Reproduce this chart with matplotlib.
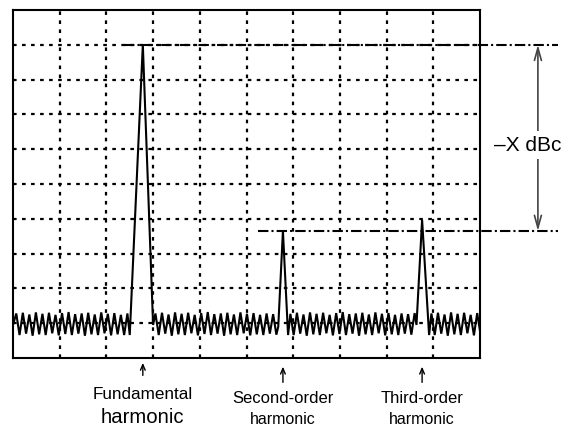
import numpy as np
import matplotlib
matplotlib.use("Agg")
import matplotlib.pyplot as plt

plt.rcParams['font.family'] = ['Liberation Sans', 'DejaVu Sans']
plt.rcParams['lines.scale_dashes'] = False

# ---- data (screen divisions, 10 x 10 graticule) ----
noise_step = 0.07
noise_starts = [0.0, 3.05, 5.94, 8.96]
noise_seg1 = [0.95, 1.28, 0.66, 1.30, 0.70, 1.25, 0.64, 1.31, 0.68, 1.27,
              0.66, 1.30, 0.71, 1.24, 0.65, 1.29, 0.69, 1.32, 0.66, 1.26,
              0.70, 1.28, 0.64, 1.30, 0.68, 1.25, 0.66, 1.31, 0.71, 1.27,
              0.65, 1.29, 0.68, 1.24, 0.66, 1.28]
noise_seg2 = [1.28, 0.66, 1.30, 0.70, 1.25, 0.64, 1.31, 0.68, 1.27, 0.66,
              1.30, 0.71, 1.24, 0.65, 1.29, 0.69, 1.32, 0.66, 1.26, 0.70,
              1.28, 0.64, 1.30, 0.68, 1.25, 0.66, 1.31, 0.71, 1.27, 0.65,
              1.29, 0.68, 1.24, 0.66, 1.28, 0.70, 1.26, 0.67]
noise_seg3 = [1.27, 0.66, 1.30, 0.70, 1.25, 0.64, 1.31, 0.68, 1.27, 0.66,
              1.30, 0.71, 1.24, 0.65, 1.29, 0.69, 1.32, 0.66, 1.26, 0.70,
              1.28, 0.64, 1.30, 0.68, 1.25, 0.66, 1.31, 0.71, 1.27, 0.65,
              1.29, 0.68, 1.24, 0.66, 1.28, 0.70, 1.26, 0.67, 1.29]
noise_seg4 = [1.28, 0.66, 1.30, 0.70, 1.25, 0.64, 1.31, 0.68, 1.27, 0.66,
              1.30, 0.71, 1.24, 0.65, 1.29, 0.69]
noise_segments = [noise_seg1, noise_seg2, noise_seg3, noise_seg4]

peak_freqs = [2.78, 5.78, 8.76]
peak_levels = [9.0, 3.65, 3.97]
peak_base_left = [2.50, 5.68, 8.64]
peak_base_right = [3.00, 5.89, 8.91]
peak_base_level_left = [0.66, 0.90, 0.95]
peak_base_level_right = [0.95, 0.66, 0.66]

ref_levels = [9.0, 3.65]          # fundamental and second-order levels
ref_line_start = [2.38, 5.25]
ref_line_end = 11.68
marker_label = "\u2013X dBc"

harmonic_names = ["Fundamental", "Second-order", "Third-order"]
harmonic_sub = ["harmonic", "harmonic", "harmonic"]

# ---- build trace ----
trace_x, trace_y = [], []
for i, seg in enumerate(noise_segments):
    xs = [noise_starts[i] + noise_step * k for k in range(len(seg))]
    trace_x += xs
    trace_y += seg
    if i < len(peak_freqs):
        trace_x += [peak_base_left[i], peak_freqs[i], peak_base_right[i]]
        trace_y += [peak_base_level_left[i], peak_levels[i], peak_base_level_right[i]]

fig = plt.figure(figsize=(5.7, 4.28), dpi=100)
ax = fig.add_axes([13/570, 70/428, 467/570, 348/428])
ax.set_xlim(0, 10)
ax.set_ylim(0, 10)
ax.set_xticks([])
ax.set_yticks([])
for s in ax.spines.values():
    s.set_linewidth(1.5)
    s.set_color('black')

grid_ls = (0, (2.6, 3.9))
for g in range(1, 10):
    ax.axvline(g, color='black', lw=1.6, ls=grid_ls, zorder=1)
    ax.axhline(g, color='black', lw=1.6, ls=grid_ls, zorder=1)

ax.plot(trace_x, trace_y, color='black', lw=1.5, zorder=3, solid_joinstyle='miter')

dashdot = (0, (7.5, 2.2, 1.5, 2.2))
for lvl, x0 in zip(ref_levels, ref_line_start):
    ax.plot([x0, ref_line_end], [lvl, lvl], color='black', lw=1.5, ls=dashdot,
            clip_on=False, zorder=2)

# level-difference arrow
arrow_x = 11.24
ax.annotate('', xy=(arrow_x, ref_levels[0]), xytext=(arrow_x, ref_levels[1]),
            xycoords='data', textcoords='data',
            arrowprops=dict(arrowstyle='<->,head_length=0.9,head_width=0.25',
                            color='#444444', lw=1.2, shrinkA=0, shrinkB=0),
            annotation_clip=False)
ax.text(11.02, 6.12, marker_label, ha='center', va='center', fontsize=15,
        bbox=dict(facecolor='white', edgecolor='none', pad=3), clip_on=False)

# labels below
arrow_tops = [-0.14, -0.25, -0.25]
arrow_bots = [-0.50, -0.70, -0.70]
name_y = [-1.06, -1.16, -1.16]
sub_y = [-1.72, -1.78, -1.78]
name_fs = [12.3, 12, 12]
sub_fs = [14.6, 11.5, 11.5]
for i, f in enumerate(peak_freqs):
    ax.annotate('', xy=(f, arrow_tops[i]), xytext=(f, arrow_bots[i]),
                arrowprops=dict(arrowstyle='->,head_length=0.4,head_width=0.17',
                                color='black', lw=1.0, shrinkA=0, shrinkB=0),
                annotation_clip=False)
    ax.text(f, name_y[i], harmonic_names[i], ha='center', va='center',
            fontsize=name_fs[i], clip_on=False)
    ax.text(f, sub_y[i], harmonic_sub[i], ha='center', va='center',
            fontsize=sub_fs[i], clip_on=False)

fig.savefig('out.png', dpi=100)
